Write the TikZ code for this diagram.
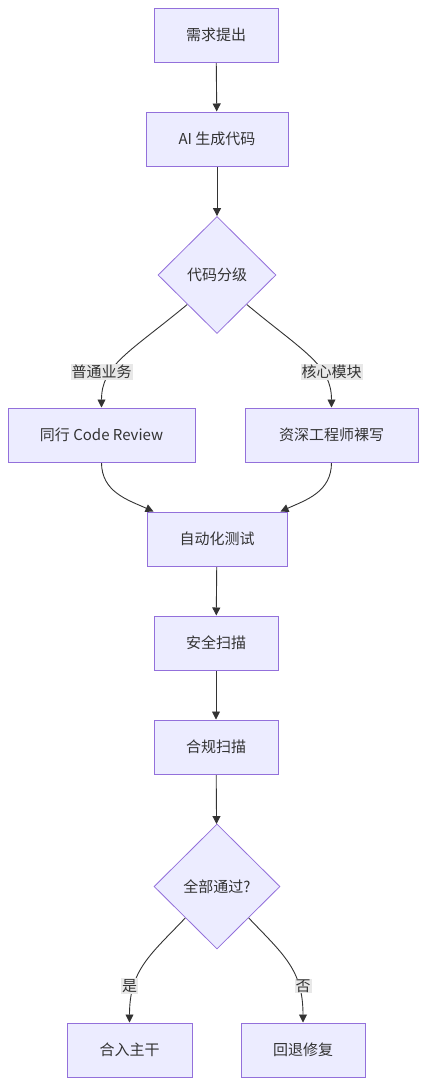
\documentclass[tikz,border=0pt]{standalone}
\usepackage{fontspec}
\setmainfont{Noto Sans CJK SC}
\usetikzlibrary{shapes.geometric,arrows.meta,calc,backgrounds}
\definecolor{nodefill}{HTML}{ECECFF}
\definecolor{nodeline}{HTML}{9370DB}
\definecolor{edgecol}{HTML}{333333}
\definecolor{lblbg}{HTML}{E8E8E8}
\begin{document}
\begin{tikzpicture}[x=1pt,y=-1pt,
  font=\fontsize{15}{18}\selectfont, text=edgecol,
  box/.style={draw=nodeline,fill=nodefill,line width=1pt,rectangle,inner sep=0pt,minimum height=54pt},
  dia/.style={draw=nodeline,fill=nodefill,line width=0.8pt,diamond,inner sep=0pt},
  lbl/.style={fill=lblbg,inner sep=1pt,font=\fontsize{15}{18}\selectfont},
  edge/.style={draw=edgecol,line width=0.9pt,-{Triangle[length=8pt,width=8pt]}}]
\useasboundingbox (0,0) rectangle (425,1085);
\node[box,minimum width=124pt] (n1) at (216,35) {需求提出};
\node[box,minimum width=142pt] (n2) at (217,139) {AI 生成代码};
\node[dia,minimum width=118pt,minimum height=117pt] (d1) at (217,275) {代码分级};
\node[box,minimum width=187pt] (b3) at (101.5,435) {同行 Code Review};
\node[box,minimum width=173pt] (b4) at (331.5,435) {资深工程师裸写};
\node[box,minimum width=140pt] (b5) at (217,539) {自动化测试};
\node[box,minimum width=124pt] (b6) at (216,643) {安全扫描};
\node[box,minimum width=124pt] (b7) at (216,747) {合规扫描};
\node[dia,minimum width=126pt,minimum height=125pt] (d2) at (217,886.5) {全部通过?};
\node[box,minimum width=125pt] (b9) at (129.5,1050) {合入主干};
\node[box,minimum width=124pt] (b10) at (303,1050) {回退修复};
\node[lbl] (l1) at (101.5,372) {普通业务};
\node[lbl] (l2) at (331.5,372) {核心模块};
\node[lbl] (l3) at (129.5,986) {是};
\node[lbl] (l4) at (303,986) {否};
\begin{scope}[on background layer]
\draw[edge] (n1) -- (n2);
\draw[edge] (n2) -- (d1);
\draw[edge] (d1.south west) .. controls (130,352) and (101.5,365) .. (b3.north);
\draw[edge] (d1.south east) .. controls (304,352) and (331.5,365) .. (b4.north);
\draw[edge] (b3.south) .. controls (101.5,492) and (128,500) .. ($(b5.north west)+(7,0)$);
\draw[edge] (b4.south) .. controls (331.5,492) and (306,500) .. ($(b5.north east)+(-7,0)$);
\draw[edge] (b5) -- (b6);
\draw[edge] (b6) -- (b7);
\draw[edge] (b7) -- (d2);
\draw[edge] (d2.south west) .. controls (150,955) and (129.5,970) .. (b9.north);
\draw[edge] (d2.south east) .. controls (284,955) and (303,970) .. (b10.north);
\end{scope}
\end{tikzpicture}
\end{document}
